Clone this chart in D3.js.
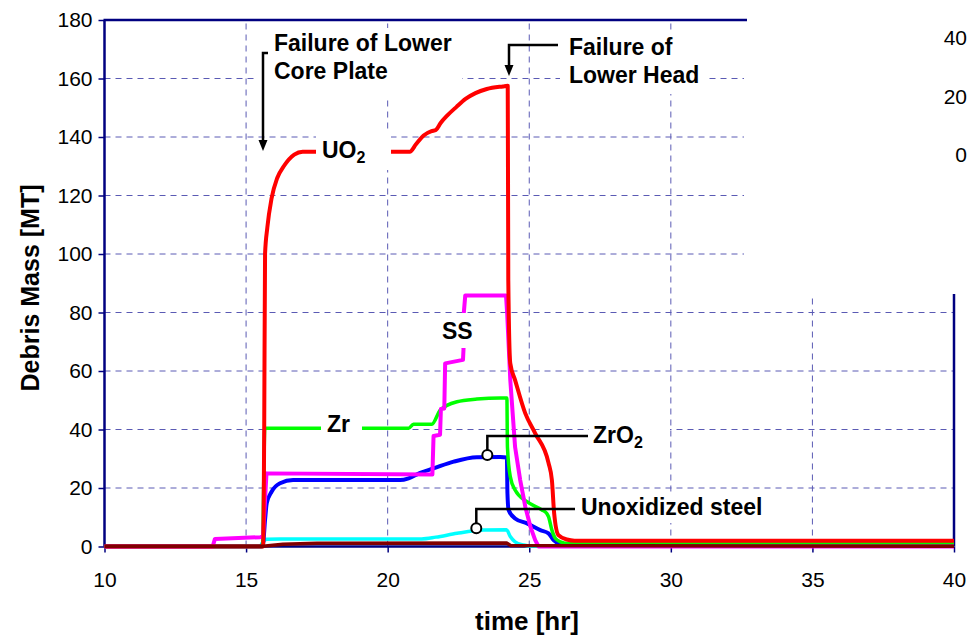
<!DOCTYPE html>
<html>
<head>
<meta charset="utf-8">
<script src="https://cdn.jsdelivr.net/npm/d3@7"></script>
<style>
  body { margin: 0; background: #fff; }
  text { font-family: "Liberation Sans", Arial, sans-serif; }
</style>
</head>
<body>
<svg id="chart" width="969" height="638"></svg>
<script>
// Debris mass in lower plenum vs time

// tick values
const xTicks = [10, 15, 20, 25, 30, 35, 40];
const yTicks = [0, 20, 40, 60, 80, 100, 120, 140, 160, 180];
const rightTicks = [40, 20, 0]; // leftover labels of a hidden second axis

// series: [time hr, mass MT]
const uo2 = [[10,0],[15.6,0],[15.64,40],[15.67,100],[15.75,109],[15.9,119],[16.1,126],[16.33,130],[16.7,134],[17.0,135],
  [20.78,135],[21.0,137.5],[21.27,140.5],[21.55,142],[21.7,142.4],[21.87,144.8],[22.1,147.3],[22.43,150.3],[22.75,153],
  [23.1,155],[23.5,156.4],[24.07,157.3],[24.24,157.5],[24.26,91],[24.33,62.6],[24.5,56.9],[24.86,45.5],[25.21,38.7],
  [25.68,28.6],[25.8,22.7],[25.88,11.3],[26.03,3.9],[26.33,2.4],[26.6,2.0],[40,2.0]];
const zr = [[10,0],[15.58,0],[15.62,20],[15.66,40.4],[20.74,40.4],[20.91,41.8],[21.56,41.8],[21.86,46.7],[22.45,49.5],
  [23.15,50.4],[23.98,50.8],[24.21,50.8],[24.23,34],[24.33,23.9],[24.5,19.3],[24.92,15.3],[25.45,12.5],[25.62,11.3],
  [25.68,10.2],[25.8,5.6],[25.92,2.8],[26.1,1.6],[26.4,1.0],[40,1.0]];
const zro2 = [[10,0],[15.55,0],[15.6,1],[15.67,9.1],[15.73,14.8],[15.9,18.7],[16.2,21.6],[16.66,22.7],[20.44,22.7],
  [20.74,23.3],[21.15,25.2],[21.62,26.7],[22.33,29],[23.15,30.5],[23.98,30.6],[24.21,30.4],[24.23,18.2],[24.27,12.5],
  [24.5,9.6],[24.92,7.9],[25.39,5.6],[25.68,4.5],[25.86,2.2],[26.1,0.8],[26.4,0.5],[40,0.5]];
const ss = [[10,0],[13.82,0],[13.9,2.6],[15.5,3.2],[15.6,3.4],[15.72,25],[21.58,24.6],[21.62,37.8],[21.85,38.2],
  [21.88,47],[22.0,47.2],[22.03,62.6],[22.66,63.8],[22.68,67.8],[22.69,80],[22.74,85.8],[24.18,85.8],[24.22,79.7],
  [24.33,57],[24.5,34],[24.68,22.7],[24.86,13.6],[25.04,6.8],[25.21,2.2],[25.33,0],[40,0]];
const steel = [[10,0],[15.5,0],[15.56,1],[15.73,2.5],[16.2,2.6],[21.2,2.6],[21.7,3.2],[22.45,4.5],[23.4,5.6],
  [24.2,5.7],[24.33,3.4],[24.5,1.6],[24.8,0.5],[25.05,0.1],[40,0.1]];
const other = [[10,0.1],[15.6,0.1],[16.3,0.8],[17.5,1.1],[24.2,1.2],[24.35,0.3],[40,0.1]];

const navy = "#000080";
const gridColor = "#5a5ab4";

const svg = d3.select("#chart");

const x = d3.scaleLinear().domain([10, 40]).range([104.5, 954]);
const y = d3.scaleLinear().domain([0, 180]).range([546.5, 20]);
const y2 = d3.scaleLinear().domain([0, 40]).range([155, 38]);

// grid
const grid = svg.append("g")
  .attr("stroke", gridColor)
  .attr("stroke-width", 1)
  .attr("stroke-dasharray", "6,5");

grid.selectAll(".hg")
  .data(yTicks.slice(1, -1))
  .enter()
  .append("line")
  .attr("x1", x(10))
  .attr("x2", x(40))
  .attr("y1", (d) => y(d))
  .attr("y2", (d) => y(d));

grid.selectAll(".vg")
  .data(xTicks.slice(1, -1))
  .enter()
  .append("line")
  .attr("x1", (d) => x(d))
  .attr("x2", (d) => x(d))
  .attr("y1", y(0))
  .attr("y2", y(180));

// white patch top right (covers part of the frame in the original)
svg.append("rect")
  .attr("x", 744).attr("y", 0)
  .attr("width", 969 - 744).attr("height", 294)
  .attr("fill", "#fff");

// axes
const yAxis = svg.append("g")
  .attr("transform", `translate(${x(10)},0)`)
  .call(d3.axisLeft(y).tickValues(yTicks).tickSize(6).tickPadding(6));

const xAxis = svg.append("g")
  .attr("transform", `translate(0,${y(0)})`)
  .call(d3.axisBottom(x).tickValues(xTicks).tickSize(6).tickPadding(20));

[yAxis, xAxis].forEach((ax) => {
  ax.select(".domain").remove();
  ax.selectAll(".tick line").attr("stroke", navy).attr("stroke-width", 1.5);
  ax.selectAll(".tick text")
    .attr("fill", "#000")
    .style("font-size", "21px")
    .style("font-family", "'Liberation Sans', Arial, sans-serif");
});

// frame
const frame = svg.append("g").attr("stroke", navy).attr("stroke-width", 2.5);
frame.append("line").attr("x1", x(10)).attr("x2", x(10)).attr("y1", y(180)).attr("y2", y(0));
frame.append("line").attr("x1", x(10)).attr("x2", x(40)).attr("y1", y(0)).attr("y2", y(0));
frame.append("line").attr("x1", x(10) - 1).attr("x2", 747).attr("y1", y(180)).attr("y2", y(180));
frame.append("line").attr("x1", x(40)).attr("x2", x(40)).attr("y1", 294).attr("y2", y(0));

// leftover labels on the right
svg.selectAll(".rt")
  .data(rightTicks)
  .enter()
  .append("text")
  .attr("x", 967)
  .attr("y", (d) => y2(d))
  .attr("dy", "0.35em")
  .attr("text-anchor", "end")
  .style("font-size", "21px")
  .text((d) => d);

// lines
const smooth = d3.line().x((d) => x(d[0])).y((d) => y(d[1])).curve(d3.curveMonotoneX);
const sharp = d3.line().x((d) => x(d[0])).y((d) => y(d[1]));

const series = [
  { data: steel, color: "#00ffff", width: 3.5, gen: smooth },
  { data: zro2, color: "#0000ff", width: 4, gen: smooth },
  { data: zr, color: "#00ff00", width: 3.5, gen: smooth },
  { data: ss, color: "#ff00ff", width: 4, gen: sharp },
  { data: uo2, color: "#ff0000", width: 4, gen: smooth },
  { data: other, color: "#800000", width: 3.5, gen: sharp },
];

svg.append("g")
  .selectAll("path")
  .data(series)
  .enter()
  .append("path")
  .attr("d", (d) => d.gen(d.data))
  .attr("fill", "none")
  .attr("stroke", (d) => d.color)
  .attr("stroke-width", (d) => d.width)
  .attr("stroke-linejoin", "round");

// labels with white box behind
function addLabel(parts, tx, ty, box) {
  const g = svg.append("g");
  g.append("rect")
    .attr("x", box[0]).attr("y", box[1])
    .attr("width", box[2] - box[0]).attr("height", box[3] - box[1])
    .attr("fill", "#fff");
  const t = g.append("text")
    .attr("x", tx).attr("y", ty)
    .style("font-size", "23px")
    .style("font-weight", "bold");
  parts.forEach((p) => {
    if (p.sub) {
      t.append("tspan").attr("dy", 5).style("font-size", "16px").text(p.s);
    } else {
      t.append("tspan").text(p.s);
    }
  });
  return g;
}

addLabel([{ s: "UO" }, { s: "2", sub: true }], 322, 158, [316, 132, 391, 170]);
addLabel([{ s: "Zr" }], 327, 432, [321, 412, 362, 446]);
addLabel([{ s: "SS" }], 442, 339, [437, 313, 478, 348]);

// callout lines for ZrO2 and unoxidized steel
function callout(tx, ty, cornerY, endX) {
  svg.append("path")
    .attr("d", `M${x(tx)},${y(ty) - 5}V${cornerY}H${endX}`)
    .attr("fill", "none")
    .attr("stroke", "#000")
    .attr("stroke-width", 2.5);
  svg.append("circle")
    .attr("cx", x(tx)).attr("cy", y(ty)).attr("r", 5)
    .attr("fill", "#fff").attr("stroke", "#000").attr("stroke-width", 2);
}
callout(23.52, 31.3, 436, 588);
callout(23.13, 6.2, 509, 575);

addLabel([{ s: "ZrO" }, { s: "2", sub: true }], 593, 443, [589, 422, 670, 455]);
addLabel([{ s: "Unoxidized steel" }], 581, 515, [577, 494, 775, 523]);

// failure annotations
function arrowDown(path, tipX, tipY) {
  svg.append("path")
    .attr("d", path)
    .attr("fill", "none")
    .attr("stroke", "#000")
    .attr("stroke-width", 2.5);
  svg.append("path")
    .attr("d", `M${tipX - 4.5},${tipY - 11}L${tipX + 4.5},${tipY - 11}L${tipX},${tipY}Z`)
    .attr("fill", "#000");
}

const lcp = svg.append("g");
lcp.append("rect").attr("x", 256).attr("y", 28).attr("width", 206).attr("height", 68).attr("fill", "#fff");
lcp.append("text").attr("x", 274).attr("y", 51).style("font-size", "23px").style("font-weight", "bold").text("Failure of Lower");
lcp.append("text").attr("x", 274).attr("y", 79).style("font-size", "23px").style("font-weight", "bold").text("Core Plate");
arrowDown("M268,53H263V141", 263, 151);

const lh = svg.append("g");
lh.append("rect").attr("x", 560).attr("y", 30).attr("width", 145).attr("height", 64).attr("fill", "#fff");
lh.append("text").attr("x", 569).attr("y", 55).style("font-size", "23px").style("font-weight", "bold").text("Failure of");
lh.append("text").attr("x", 569).attr("y", 83).style("font-size", "23px").style("font-weight", "bold").text("Lower Head");
arrowDown("M558,45H509V66", 509, 76);

// axis titles
svg.append("text")
  .attr("transform", "translate(39,288) rotate(-90)")
  .attr("text-anchor", "middle")
  .style("font-size", "25px")
  .style("font-weight", "bold")
  .text("Debris Mass [MT]");

svg.append("text")
  .attr("x", 527)
  .attr("y", 630)
  .attr("text-anchor", "middle")
  .style("font-size", "26px")
  .style("font-weight", "bold")
  .text("time [hr]");
</script>
</body>
</html>
